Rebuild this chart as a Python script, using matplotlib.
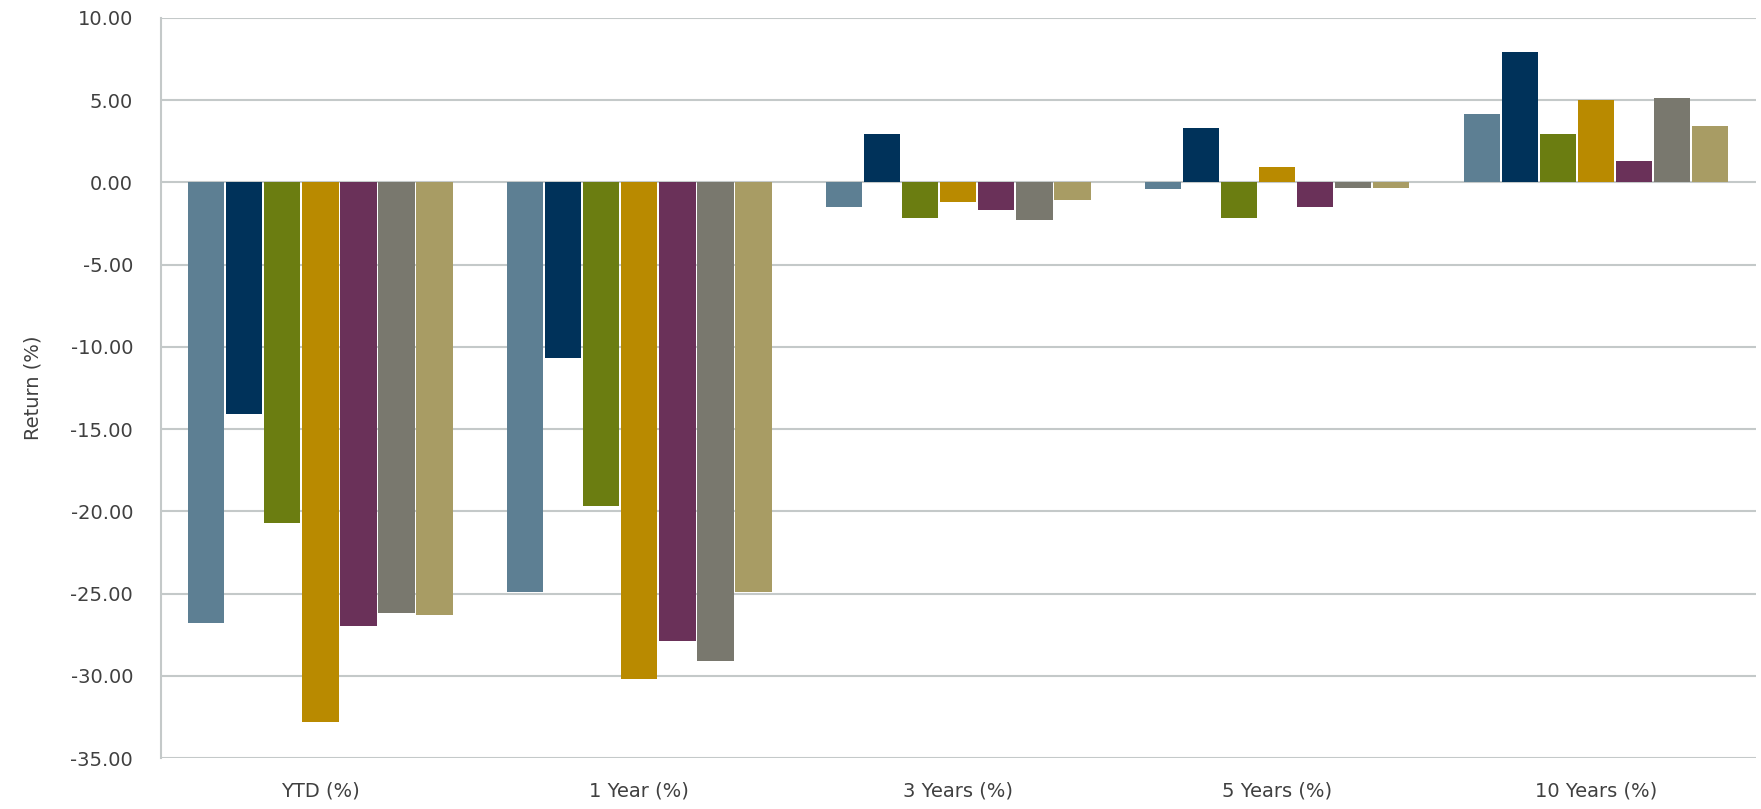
import matplotlib
matplotlib.use("Agg")
import matplotlib.pyplot as plt
import numpy as np

categories = ["YTD (%)", "1 Year (%)", "3 Years (%)", "5 Years (%)", "10 Years (%)"]
series_a = [-26.8, -24.9, -1.5, -0.4, 4.15]
series_b = [-14.1, -10.7, 2.92, 3.29, 7.92]
series_c = [-20.7, -19.7, -2.2, -2.2, 2.94]
series_d = [-32.8, -30.2, -1.22, 0.96, 5.0]
series_e = [-27.0, -27.9, -1.7, -1.5, 1.3]
series_f = [-26.2, -29.1, -2.3, -0.35, 5.1]
series_g = [-26.3, -24.9, -1.1, -0.35, 3.4]
yticks = [10, 5, 0, -5, -10, -15, -20, -25, -30, -35]

series = [series_a, series_b, series_c, series_d, series_e, series_f, series_g]
colors = ["#5D7F93", "#00325A", "#6B7D11", "#B98A00", "#6A3159", "#79786E", "#A89C64"]

plt.rcParams['font.family'] = ['DejaVu Sans']
fig = plt.figure(figsize=(17.61, 8.09), dpi=100)
ax = fig.add_axes([0.0914, 0.063, 0.9056, 0.915])

x = np.arange(len(categories))
n = len(series)
group = 0.835
w = group / n
for i, (vals, c) in enumerate(zip(series, colors)):
    ax.bar(x - group / 2 + w * (i + 0.5), vals, width=w * 0.95, color=c,
           linewidth=0, zorder=3)

ax.set_xlim(-0.5, len(categories) - 0.5)
ax.set_ylim(-35, 10)
ax.set_yticks(yticks)
ax.set_yticklabels([f"{v:.2f}" for v in yticks])
ax.set_xticks(x)
ax.set_xticklabels(categories)
ax.yaxis.grid(True, color="#C4C9C9", linewidth=1.5, zorder=0)
ax.set_axisbelow(True)
for s in ["top", "right", "bottom"]:
    ax.spines[s].set_visible(False)
ax.spines["left"].set_color("#C4C9C9")
ax.spines["left"].set_linewidth(1.5)
ax.tick_params(axis="both", length=0, labelsize=14, colors="#404040")
ax.tick_params(axis="y", pad=20)
ax.tick_params(axis="x", pad=17)
ax.set_ylabel("Return (%)", fontsize=14, color="#404040", labelpad=20)

fig.savefig("out.png", dpi=100)
